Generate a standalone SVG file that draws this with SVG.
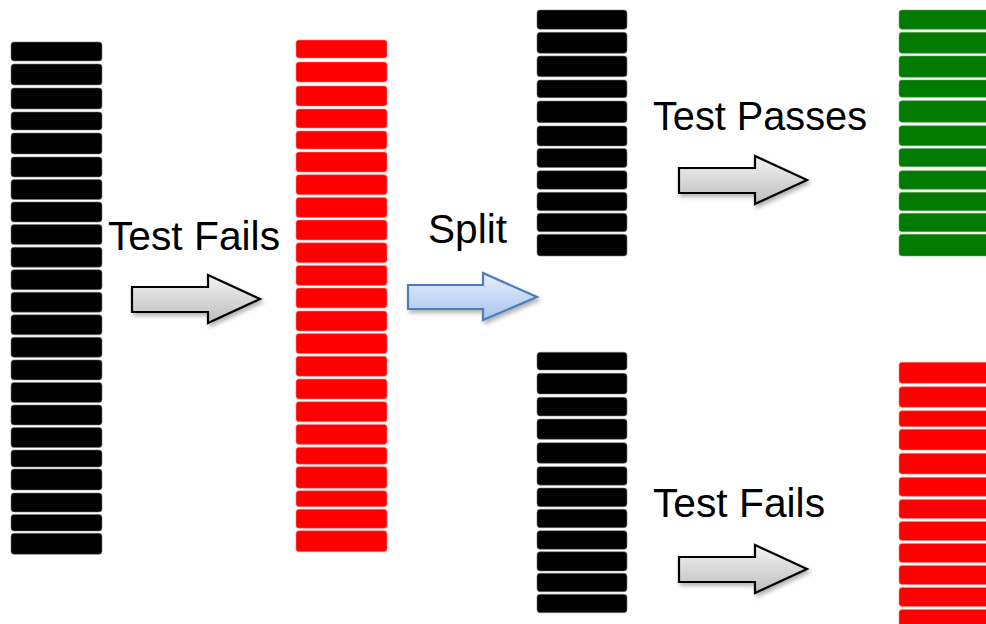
<svg xmlns="http://www.w3.org/2000/svg" width="986" height="624" viewBox="0 0 986 624">
<defs>
<style>
.blk{fill:#000;stroke:#777;stroke-width:0.6}
.red{fill:#ff0000;stroke:#ff8080;stroke-width:0.6}
.grn{fill:#007a00;stroke:#66a866;stroke-width:0.6}
.lbl{font-family:"Liberation Sans",Arial,sans-serif;font-size:40px;fill:#000}
.garrow{fill:url(#gg);stroke:#000;stroke-width:2.2;stroke-linejoin:miter;filter:url(#sh)}
.barrow{fill:url(#bg);stroke:#4a7ebb;stroke-width:2.2;filter:url(#sh)}
</style>
<linearGradient id="gg" x1="0" y1="0" x2="0" y2="1">
<stop offset="0" stop-color="#f4f4f4"/><stop offset="1" stop-color="#bdbdbd"/>
</linearGradient>
<linearGradient id="bg" x1="0" y1="0" x2="0" y2="1">
<stop offset="0" stop-color="#e6efff"/><stop offset="1" stop-color="#a8c4ee"/>
</linearGradient>
<filter id="sh" x="-20%" y="-20%" width="150%" height="160%">
<feDropShadow dx="2" dy="3" stdDeviation="2" flood-color="#000" flood-opacity="0.3"/>
</filter>
</defs>

<g id="stack-left">
<rect class="blk" x="11" y="42" width="91" height="19" rx="3"/>
<rect class="blk" x="11" y="64" width="91" height="21" rx="3"/>
<rect class="blk" x="11" y="88" width="91" height="21" rx="3"/>
<rect class="blk" x="11" y="112" width="91" height="18" rx="3"/>
<rect class="blk" x="11" y="133" width="91" height="21" rx="3"/>
<rect class="blk" x="11" y="157" width="91" height="20" rx="3"/>
<rect class="blk" x="11" y="179.5" width="91" height="20" rx="3"/>
<rect class="blk" x="11" y="202" width="91" height="20" rx="3"/>
<rect class="blk" x="11" y="224.6" width="91" height="20" rx="3"/>
<rect class="blk" x="11" y="247.2" width="91" height="20" rx="3"/>
<rect class="blk" x="11" y="269.7" width="91" height="20" rx="3"/>
<rect class="blk" x="11" y="292.2" width="91" height="20" rx="3"/>
<rect class="blk" x="11" y="314.8" width="91" height="20" rx="3"/>
<rect class="blk" x="11" y="337.3" width="91" height="20" rx="3"/>
<rect class="blk" x="11" y="359.9" width="91" height="20" rx="3"/>
<rect class="blk" x="11" y="382.4" width="91" height="20" rx="3"/>
<rect class="blk" x="11" y="405" width="91" height="20" rx="3"/>
<rect class="blk" x="11" y="427.5" width="91" height="20" rx="3"/>
<rect class="blk" x="11" y="450" width="91" height="17" rx="3"/>
<rect class="blk" x="11" y="469" width="91" height="21" rx="3"/>
<rect class="blk" x="11" y="493" width="91" height="19" rx="3"/>
<rect class="blk" x="11" y="514.5" width="91" height="16.5" rx="3"/>
<rect class="blk" x="11" y="533.3" width="91" height="21" rx="3"/>
</g>

<g id="stack-red">
<rect class="red" x="296" y="40" width="91" height="18" rx="3"/>
<rect class="red" x="296" y="62" width="91" height="20" rx="3"/>
<rect class="red" x="296" y="86" width="91" height="20" rx="3"/>
<rect class="red" x="296" y="109" width="91" height="19" rx="3"/>
<rect class="red" x="296" y="131" width="91" height="18" rx="3"/>
<rect class="red" x="296" y="152" width="91" height="20" rx="3"/>
<rect class="red" x="296" y="174.7" width="91" height="20" rx="3"/>
<rect class="red" x="296" y="197.4" width="91" height="20" rx="3"/>
<rect class="red" x="296" y="220" width="91" height="20" rx="3"/>
<rect class="red" x="296" y="242.8" width="91" height="20" rx="3"/>
<rect class="red" x="296" y="265.5" width="91" height="20" rx="3"/>
<rect class="red" x="296" y="288" width="91" height="20" rx="3"/>
<rect class="red" x="296" y="311" width="91" height="20" rx="3"/>
<rect class="red" x="296" y="333.6" width="91" height="20" rx="3"/>
<rect class="red" x="296" y="356.3" width="91" height="20" rx="3"/>
<rect class="red" x="296" y="379" width="91" height="20" rx="3"/>
<rect class="red" x="296" y="401.7" width="91" height="20" rx="3"/>
<rect class="red" x="296" y="424.4" width="91" height="20" rx="3"/>
<rect class="red" x="296" y="447.3" width="91" height="17" rx="3"/>
<rect class="red" x="296" y="466.7" width="91" height="21.6" rx="3"/>
<rect class="red" x="296" y="490.7" width="91" height="16" rx="3"/>
<rect class="red" x="296" y="509.3" width="91" height="19" rx="3"/>
<rect class="red" x="296" y="530.7" width="91" height="21" rx="3"/>
</g>

<g id="stack-top-black">
<rect class="blk" x="537" y="10" width="90" height="19.3" rx="3"/>
<rect class="blk" x="537" y="32.3" width="90" height="21" rx="3"/>
<rect class="blk" x="537" y="56" width="90" height="20.7" rx="3"/>
<rect class="blk" x="537" y="80" width="90" height="17.7" rx="3"/>
<rect class="blk" x="537" y="101" width="90" height="21.7" rx="3"/>
<rect class="blk" x="537" y="126" width="90" height="20" rx="3"/>
<rect class="blk" x="537" y="148.5" width="90" height="19" rx="3"/>
<rect class="blk" x="537" y="170.7" width="90" height="18.6" rx="3"/>
<rect class="blk" x="537" y="192.3" width="90" height="18.4" rx="3"/>
<rect class="blk" x="537" y="213.3" width="90" height="18.4" rx="3"/>
<rect class="blk" x="537" y="234.3" width="90" height="21.7" rx="3"/>
</g>

<g id="stack-green">
<rect class="grn" x="899" y="10" width="91" height="19.3" rx="3"/>
<rect class="grn" x="899" y="32.3" width="91" height="21" rx="3"/>
<rect class="grn" x="899" y="56" width="91" height="21.3" rx="3"/>
<rect class="grn" x="899" y="80" width="91" height="17.3" rx="3"/>
<rect class="grn" x="899" y="100.7" width="91" height="21.6" rx="3"/>
<rect class="grn" x="899" y="125.7" width="91" height="20" rx="3"/>
<rect class="grn" x="899" y="148.5" width="91" height="18.2" rx="3"/>
<rect class="grn" x="899" y="170.7" width="91" height="18.6" rx="3"/>
<rect class="grn" x="899" y="192.3" width="91" height="18.4" rx="3"/>
<rect class="grn" x="899" y="213.3" width="91" height="18.4" rx="3"/>
<rect class="grn" x="899" y="234.3" width="91" height="21.7" rx="3"/>
</g>

<g id="stack-bottom-black">
<rect class="blk" x="537" y="352.3" width="90" height="17.7" rx="3"/>
<rect class="blk" x="537" y="373.3" width="90" height="20.7" rx="3"/>
<rect class="blk" x="537" y="397.3" width="90" height="18.7" rx="3"/>
<rect class="blk" x="537" y="419" width="90" height="20.3" rx="3"/>
<rect class="blk" x="537" y="442.7" width="90" height="20.6" rx="3"/>
<rect class="blk" x="537" y="466.7" width="90" height="18.5" rx="3"/>
<rect class="blk" x="537" y="488" width="90" height="18.7" rx="3"/>
<rect class="blk" x="537" y="509.3" width="90" height="18.4" rx="3"/>
<rect class="blk" x="537" y="530.7" width="90" height="18.6" rx="3"/>
<rect class="blk" x="537" y="551.7" width="90" height="19.3" rx="3"/>
<rect class="blk" x="537" y="573.3" width="90" height="18.4" rx="3"/>
<rect class="blk" x="537" y="594.3" width="90" height="18.4" rx="3"/>
</g>

<g id="stack-bottom-red">
<rect class="red" x="899" y="362.3" width="91" height="21" rx="3"/>
<rect class="red" x="899" y="386.7" width="91" height="20.6" rx="3"/>
<rect class="red" x="899" y="410.7" width="91" height="16" rx="3"/>
<rect class="red" x="899" y="429.3" width="91" height="20.7" rx="3"/>
<rect class="red" x="899" y="453.3" width="91" height="20.7" rx="3"/>
<rect class="red" x="899" y="477.3" width="91" height="19" rx="3"/>
<rect class="red" x="899" y="499.5" width="91" height="19" rx="3"/>
<rect class="red" x="899" y="521.5" width="91" height="19" rx="3"/>
<rect class="red" x="899" y="543.5" width="91" height="19" rx="3"/>
<rect class="red" x="899" y="565.5" width="91" height="19" rx="3"/>
<rect class="red" x="899" y="587.5" width="91" height="19" rx="3"/>
<rect class="red" x="899" y="609.5" width="91" height="19" rx="3"/>
</g>

<g id="connectors">
<path class="garrow" d="M132,287 H208 V275 L260,299 L208,323 V312 H132 Z"/>
<path class="barrow" d="M408,285 H483 V273 L537,297 L483,320 V309 H408 Z"/>
<path class="garrow" d="M679,168 H755 V156 L807,180 L755,204 V193 H679 Z"/>
<path class="garrow" d="M679,557 H755 V545 L807,569 L755,593 V582 H679 Z"/>
</g>

<g id="labels">
<text class="lbl" x="108" y="250" textLength="172" lengthAdjust="spacingAndGlyphs">Test Fails</text>
<text class="lbl" x="428" y="243" textLength="79" lengthAdjust="spacingAndGlyphs">Split</text>
<text class="lbl" x="653" y="130" textLength="214" lengthAdjust="spacingAndGlyphs">Test Passes</text>
<text class="lbl" x="653" y="517" textLength="172" lengthAdjust="spacingAndGlyphs">Test Fails</text>
</g>
</svg>
